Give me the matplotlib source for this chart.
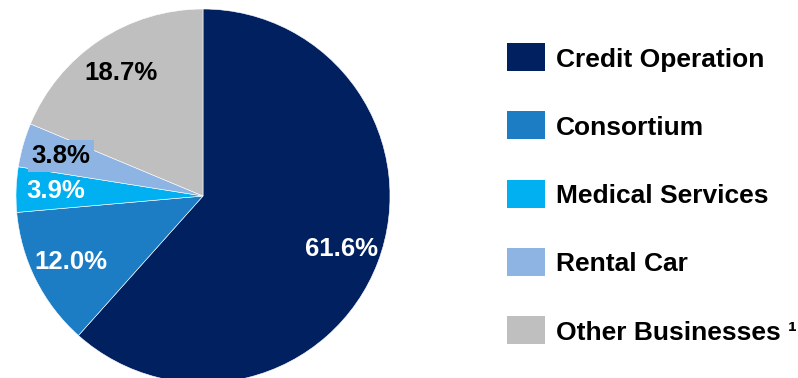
import matplotlib
matplotlib.use('Agg')
import matplotlib.pyplot as plt
from matplotlib.patches import Rectangle

plt.rcParams['font.family'] = ['Liberation Sans', 'DejaVu Sans']
plt.rcParams['font.weight'] = 'bold'

# data
labels = ['Credit Operation', 'Consortium', 'Medical Services', 'Rental Car', 'Other Businesses \u00b9']
shares = [61.6, 12.0, 3.9, 3.8, 18.7]
colors = ['#002060', '#1C7DC5', '#00B0F0', '#8EB4E3', '#BFBFBF']
label_colors = ['white', 'white', 'white', 'black', 'black']

W, H = 798, 378
fig = plt.figure(figsize=(W / 100, H / 100), dpi=100)

# pie axes: centre (203,196) px, radius 187 px
cx, cy, r = 203, 196, 187
ax = fig.add_axes([(cx - r) / W, (H - cy - r) / H, 2 * r / W, 2 * r / H])
wedges, texts, autotexts = ax.pie(
    shares, colors=colors, startangle=90, counterclock=False,
    autopct='%.1f%%', pctdistance=0.79,
    wedgeprops=dict(edgecolor='white', linewidth=0.4),
    textprops=dict(fontsize=18.5, fontweight='bold'))
ax.set_xlim(-1, 1)
ax.set_ylim(-1, 1)
ax.set_aspect('equal')
ax.axis('off')

for t, c in zip(autotexts, label_colors):
    t.set_color(c)
# the small rental slice label sits on a box of its own colour
autotexts[3].set_bbox(dict(boxstyle='square,pad=0.15', facecolor=colors[3], edgecolor='none'))

# legend drawn by hand to match square size and spacing
row0, step = 57, 68.3
for i, (lab, col) in enumerate(zip(labels, colors)):
    yc = row0 + i * step
    fig.add_artist(Rectangle((507 / W, 1 - (yc + 14) / H), 38 / W, 28 / H,
                             transform=fig.transFigure, facecolor=col, edgecolor='none'))
    fig.text(556 / W, 1 - (yc + 2.5) / H, lab, fontsize=19, fontweight='bold',
             va='center', ha='left', color='black')

fig.savefig('out.png', dpi=100)
